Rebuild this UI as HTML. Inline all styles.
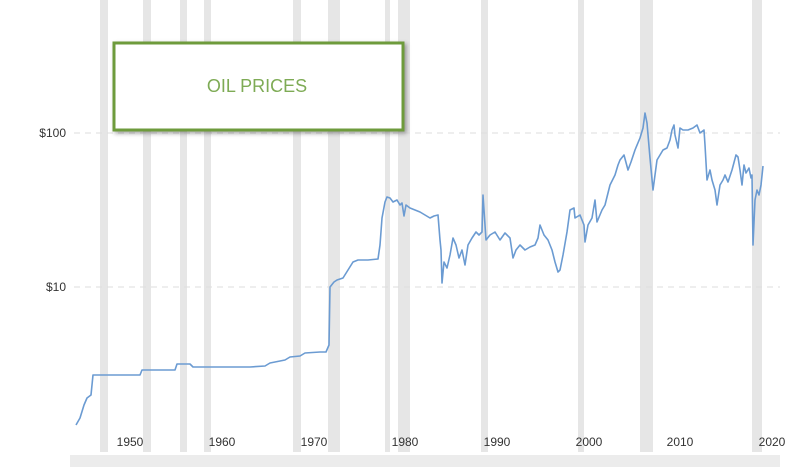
<!DOCTYPE html>
<html><head><meta charset="utf-8"><style>
html,body{margin:0;padding:0;background:#fff;}
svg{display:block;font-family:"Liberation Sans","DejaVu Sans",sans-serif;}
</style></head><body>
<svg width="800" height="467" viewBox="0 0 800 467">
<g fill="#e6e6e6">
<rect x="100" y="0" width="8" height="452"/>
<rect x="143" y="0" width="8" height="452"/>
<rect x="180" y="0" width="7" height="452"/>
<rect x="204" y="0" width="7" height="452"/>
<rect x="293" y="0" width="8" height="452"/>
<rect x="328" y="0" width="12" height="452"/>
<rect x="385" y="0" width="5" height="452"/>
<rect x="398" y="0" width="12" height="452"/>
<rect x="481" y="0" width="7" height="452"/>
<rect x="578" y="0" width="6" height="452"/>
<rect x="640" y="0" width="13" height="452"/>
<rect x="752" y="0" width="10" height="452"/>
</g>
<g stroke="#ddd" stroke-dasharray="6,5" stroke-width="1">
<line x1="74" y1="133" x2="780" y2="133"/>
<line x1="74" y1="287" x2="780" y2="287"/>
</g>
<g font-size="12" fill="#333" text-anchor="end">
<text x="66" y="137">$100</text>
<text x="66" y="291">$10</text>
</g>
<g font-size="12" fill="#333" text-anchor="middle">
<text x="130" y="446">1950</text><text x="222" y="446">1960</text><text x="314" y="446">1970</text><text x="405" y="446">1980</text><text x="497" y="446">1990</text><text x="589" y="446">2000</text><text x="680" y="446">2010</text><text x="772" y="446">2020</text>
</g>
<rect x="70" y="455" width="710" height="12" fill="#ececec"/>
<polyline fill="none" stroke="#6b9bd2" stroke-width="1.6" stroke-linejoin="round" points="76,425 80,418 84,405 87,398 91,395 93,375 140,375 142,370 175,370 177,364 190,364 193,367 250,367 265,366 270,363 285,360 290,357 300,356 305,353 320,352 326,352 329,345 330,287 334,282 337,280 343,278 348,270 353,262 358,260 368,260 378,259 380,245 382,218 385,202 387,197 390,198 393,202 397,200 400,205 402,203 404,216 406,205 410,208 415,210 420,212 425,215 430,218 434,216 438,215 440,240 441,250 442,283 444,262 447,268 450,255 453,238 456,245 459,258 462,250 465,265 468,245 472,238 476,232 479,235 482,232 483,195 486,240 490,235 495,232 500,240 505,233 510,238 513,258 516,250 520,245 525,250 530,247 535,245 538,238 540,225 544,235 548,240 552,250 555,262 558,272 560,270 563,255 567,232 570,210 574,208 575,218 580,215 584,225 585,242 588,225 592,218 595,200 597,222 602,210 605,205 610,185 615,175 618,165 620,160 624,155 628,170 631,162 635,150 640,138 643,128 645,113 647,123 650,158 653,190 655,175 657,160 660,155 663,150 667,148 670,140 672,130 674,125 675,135 678,148 680,128 683,130 688,130 693,128 697,125 700,133 704,130 705,145 707,180 710,170 712,180 715,190 717,205 720,185 723,180 725,175 728,182 732,170 736,155 738,157 740,170 742,185 744,165 746,173 749,168 751,178 752,175 753,245 755,200 757,190 759,195 761,185 763,166"/>
<rect x="114" y="43" width="289" height="87" fill="#fff" stroke="#6e9b3c" stroke-width="3" style="filter:drop-shadow(2px 2px 2px rgba(0,0,0,0.35))"/>
<text x="257" y="92" font-size="18" fill="#7eab55" text-anchor="middle">OIL PRICES</text>
</svg>
</body></html>
